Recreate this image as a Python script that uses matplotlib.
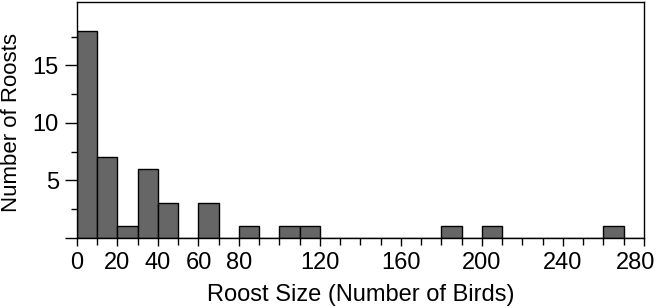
import matplotlib
matplotlib.use("Agg")
import matplotlib.pyplot as plt
from matplotlib.ticker import MultipleLocator, FixedLocator
from matplotlib.transforms import ScaledTranslation

plt.rcParams['font.family'] = ['Liberation Sans', 'DejaVu Sans']

bin_left = [0, 10, 20, 30, 40, 50, 60, 70, 80, 90, 100, 110, 120, 130,
            140, 150, 160, 170, 180, 190, 200, 210, 220, 230, 240, 250, 260, 270]
counts = [18, 7, 1, 6, 3, 0, 3, 0, 1, 0, 1, 1, 0, 0,
          0, 0, 0, 0, 1, 0, 1, 0, 0, 0, 0, 0, 1, 0]
x_tick_labels = [0, 20, 40, 60, 80, 120, 160, 200, 240, 280]
y_ticks = [0, 5, 10, 15]
y_tick_labels = ['', '5', '10', '15']
y_minor = [2.5, 7.5, 12.5, 17.5]

fig = plt.figure(figsize=(6.58, 3.08), dpi=100)
ax = fig.add_axes([0.117, 0.2273, 0.8617, 0.7662])

ax.bar(bin_left, counts, width=10, align='edge', color='#666666',
       edgecolor='black', linewidth=1.0, zorder=2)

ax.set_xlim(0, 280)
ax.set_ylim(0, 20.5)

ax.xaxis.set_major_locator(FixedLocator(x_tick_labels))
ax.xaxis.set_minor_locator(MultipleLocator(10))
ax.set_xticklabels([str(v) for v in x_tick_labels])
ax.set_yticks(y_ticks)
ax.set_yticklabels(y_tick_labels)
ax.yaxis.set_minor_locator(FixedLocator(y_minor))

ax.tick_params(axis='both', which='major', labelsize=17, width=1.0, color='black')
ax.tick_params(axis='x', which='major', length=6, pad=4)
ax.tick_params(axis='x', which='minor', length=5, width=1.0)
ax.tick_params(axis='y', which='major', length=9, pad=4)
ax.tick_params(axis='y', which='minor', length=4, width=1.0)

# last x label shifted left to fit inside the figure
last = ax.get_xticklabels()[-1]
last.set_transform(last.get_transform() + ScaledTranslation(-0.08, 0, fig.dpi_scale_trans))

for s in ax.spines.values():
    s.set_linewidth(1.0)
    s.set_color('black')

ax.set_xlabel('Roost Size (Number of Birds)', fontsize=17, labelpad=7)
ax.set_ylabel('Number of Roosts', fontsize=16)
ax.yaxis.set_label_coords(-0.097, 0.49)

fig.savefig('out.png', dpi=100)
